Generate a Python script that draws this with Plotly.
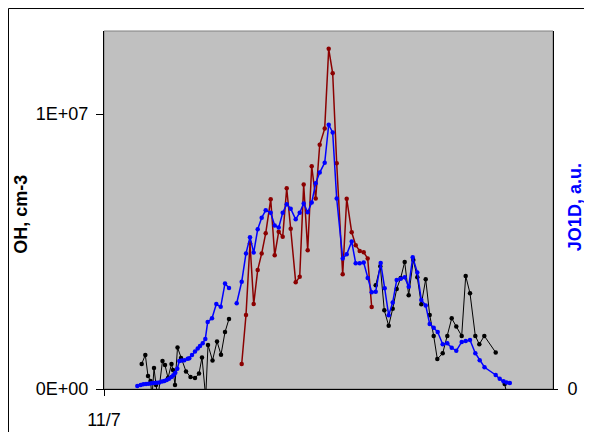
import plotly.graph_objects as go

# time in hours after 11/7 00:00
black_hours = [2.015, 2.208, 2.352, 2.486, 2.566, 2.673, 2.780, 2.886, 3.127, 3.261, 3.421, 3.608,
               3.688, 3.795, 3.929, 4.116, 4.383, 4.624, 4.864, 5.078, 5.238, 5.436, 5.559, 5.800,
               6.040, 6.254, 6.468, 6.682, None,
               14.523, 14.769, 14.983, 15.218, 15.432, 15.645, 15.859, 16.073, 16.287, 16.533,
               16.747, 16.960, 17.196, 17.410, 17.623, 17.816, 18.104, 18.350, 18.586, 18.831,
               19.120, 19.334, 19.564, 19.848, 20.061, 20.329, 20.937, None,
               21.418, 21.568]
# OH in units of 1e6 cm-3
black_oh = [0.91, 1.24, 0.47, 0.29, -0.3, 0.76, 0.15, -0.3, 1.02, 0.87, 0.40, 0.91,
            0.69, 0.15, 1.51, 1.13, 0.64, 0.44, 0.40, 0.56, 1.15, -0.3, 1.60, 1.04,
            1.73, 1.25, 2.07, 2.55, None,
            3.77, 4.46, 2.86, 2.30, 2.92, 3.64, 4.04, 4.62, 3.41, 4.69,
            4.06, 3.08, 3.99, 2.69, 1.93, 1.09, 1.30, 1.93, 2.57, 2.27,
            1.93, 4.11, 3.48, 1.93, 1.63, 1.93, 1.33, None,
            0.18, -0.3]

red_hours = [7.360, 7.590, 7.804, 8.002, 8.216, 8.429, 8.643, 8.911, 9.124, 9.338, 9.552, 9.766,
             9.979, 10.247, 10.461, 10.674, 10.888, 11.102, 11.316, 11.530, 11.797, 12.011,
             12.224, 12.438, 12.759, 12.973, 13.240, 13.454, 13.668, 13.882, 14.095, 14.309]
red_oh = [0.91, 2.69, 5.30, 3.09, 4.33, 4.93, 5.66, 6.90, 4.86, 5.72, 5.54, 7.30,
          5.83, 3.88, 4.08, 7.44, 5.05, 8.10, 6.93, 8.88, 9.47, 12.37,
          11.48, 8.21, 4.17, 6.92, 5.70, 5.23, 5.02, 4.97, 4.75, 2.98]

blue_hours = [1.780, 1.962, 2.101, 2.245, 2.389, 2.528, 2.673, 2.817, 2.956, 3.100, 3.223, 3.351,
              3.474, 3.597, 3.704, 3.811, 3.918, 4.025, 4.153, 4.292, 4.474, 4.559, 4.704, 4.864,
              5.009, 5.131, 5.276, 5.415, 5.543, 5.773, 6.003, 6.238, 6.468, 6.682, None,
              7.093, 7.360, 7.590, 7.804, 8.002, 8.216, 8.429, 8.643, 8.911, 9.124, 9.338, 9.552,
              9.766, 9.979, 10.247, 10.461, 10.674, 10.888, 11.102, 11.316, 11.530, 11.797, 12.011,
              12.224, 12.438, 12.759, 12.973, 13.240, 13.454, 13.668, 13.882, 14.095, 14.309,
              14.523, 14.791, 15.004, 15.218, 15.432, 15.645, 15.859, 16.073, 16.287, 16.501,
              16.747, 16.960, 17.196, 17.410, 17.623, 17.837, 18.104, 18.350, 18.586, 18.831,
              19.120, 19.334, 19.564, 19.848, 20.082, 20.339, 20.937, 21.151, 21.354, 21.514, 21.691]
blue_jo1d = [0.11, 0.15, 0.17, 0.18, 0.19, 0.21, 0.22, 0.23, 0.24, 0.27, 0.29, 0.33,
             0.37, 0.44, 0.50, 0.59, 0.74, 1.02, 1.04, 1.05, 1.10, 1.12, 1.24, 1.36,
             1.47, 1.56, 1.66, 1.82, 2.44, 2.57, 3.09, 2.99, 3.84, 3.67, None,
             3.12, 3.90, 4.93, 5.52, 4.96, 5.81, 6.23, 6.50, 6.41, 5.95, 5.87, 6.41,
             6.72, 6.56, 6.17, 6.41, 6.75, 6.43, 6.78, 7.48, 7.87, 8.23, 9.61,
             9.33, 6.93, 4.75, 4.90, 5.36, 4.57, 4.57, 4.60, 4.04, 3.52,
             3.54, 4.58, 3.66, 2.68, 3.15, 3.96, 4.01, 4.06, 3.72, 4.79,
             4.24, 3.24, 3.04, 2.36, 2.23, 2.07, 1.63, 1.66, 1.50, 1.39,
             1.71, 1.75, 1.78, 1.30, 1.05, 0.79, 0.51, 0.37, 0.28, 0.24, 0.22]

x_tick_vals = [0]
x_tick_text = ["11/7"]
oh_tick_vals = [0, 1e7]
oh_tick_text = ["0E+00", "1E+07"]
jo_tick_vals = [0]
jo_tick_text = ["0"]

FONT = "Liberation Sans, Arial, sans-serif"

fig = go.Figure()
fig.add_trace(go.Scatter(
    x=black_hours, y=[v * 1e6 if v is not None else None for v in black_oh],
    mode="lines+markers", line=dict(color="#000000", width=1),
    marker=dict(color="#000000", size=4.5), connectgaps=False, yaxis="y", name="OH"))
fig.add_trace(go.Scatter(
    x=red_hours, y=[v * 1e6 for v in red_oh],
    mode="lines+markers", line=dict(color="#8B0000", width=1.5),
    marker=dict(color="#8B0000", size=4.5), yaxis="y", name="OH (2)"))
fig.add_trace(go.Scatter(
    x=blue_hours, y=blue_jo1d,
    mode="lines+markers", line=dict(color="#0000FF", width=1.5),
    marker=dict(color="#0000FF", size=4.5), connectgaps=False, yaxis="y2", name="JO1D"))

fig.update_layout(
    width=576, height=424,
    margin=dict(l=96, r=31, t=23, b=43, autoexpand=False),
    paper_bgcolor="white", plot_bgcolor="#C0C0C0",
    showlegend=False,
    font=dict(family=FONT, size=18, color="black"),
    xaxis=dict(range=[0, 24], tickvals=x_tick_vals, ticktext=x_tick_text,
               ticks="outside", ticklen=6, tickcolor="black", showline=True,
               linecolor="black", linewidth=1, showgrid=False, zeroline=False,
               ticklabelstandoff=8, tickfont=dict(size=18), automargin=False),
    yaxis=dict(range=[0, 1.302e7], tickvals=oh_tick_vals, ticktext=oh_tick_text,
               ticks="outside", ticklen=7, tickcolor="black", showline=True,
               linecolor="black", linewidth=1, showgrid=False, zeroline=False,
               ticklabelstandoff=4, tickfont=dict(size=18), automargin=False),
    yaxis2=dict(range=[0, 13.02], tickvals=jo_tick_vals, ticktext=jo_tick_text,
                overlaying="y", side="right",
                ticks="outside", ticklen=4, tickcolor="black", showline=True,
                linecolor="black", linewidth=1, showgrid=False, zeroline=False,
                ticklabelstandoff=6, tickfont=dict(size=18), automargin=False),
    shapes=[
        dict(type="rect", xref="paper", yref="paper", x0=0, x1=1, y0=0, y1=1,
             line=dict(color="#808080", width=1), layer="below"),
        dict(type="rect", xref="paper", yref="paper", x0=-0.2127, x1=1.2, y0=-0.3, y1=1.0628,
             line=dict(color="black", width=1), fillcolor="rgba(0,0,0,0)", layer="below"),
    ],
    annotations=[
        dict(text="<b>OH, cm-3</b>", xref="paper", yref="paper", x=-0.185, y=0.489,
             textangle=-90, showarrow=False, font=dict(size=18, color="black"),
             xanchor="center", yanchor="middle"),
        dict(text="<b>JO1D, a.u.</b>", xref="paper", yref="paper", x=1.049, y=0.508,
             textangle=-90, showarrow=False, font=dict(size=18, color="#0000FF"),
             xanchor="center", yanchor="middle"),
    ],
)

fig.write_html("out.html")
